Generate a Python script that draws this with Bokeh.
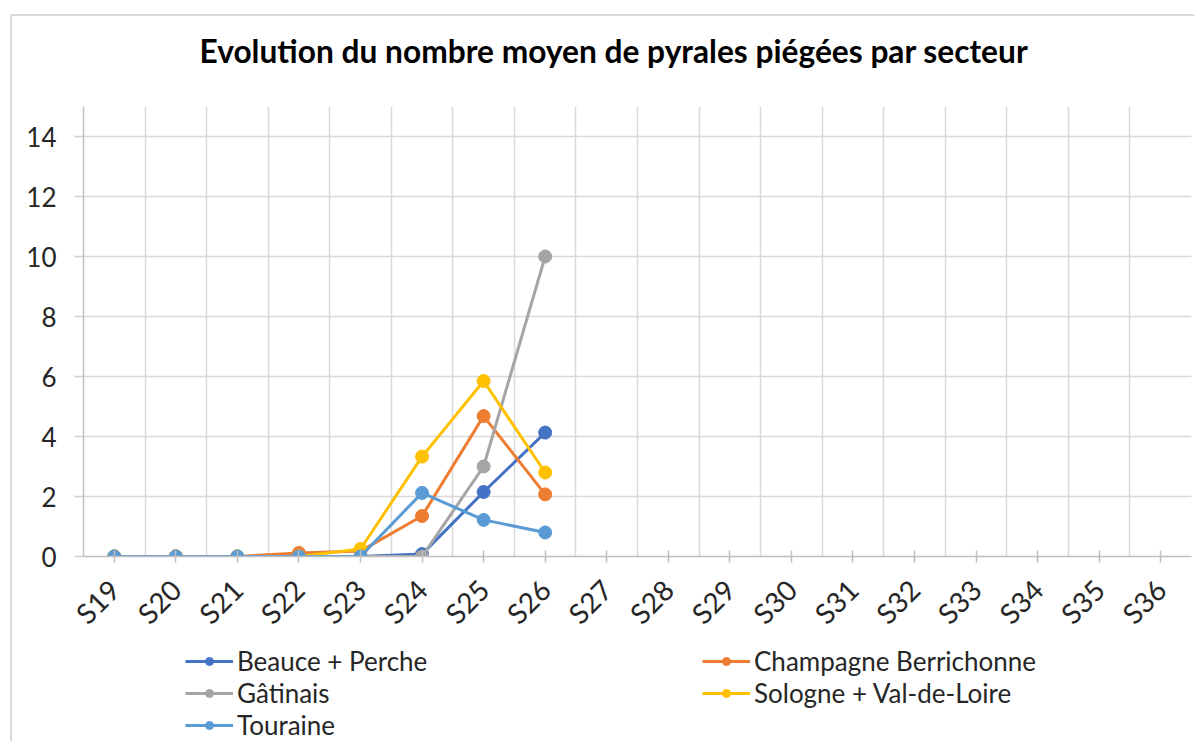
import numpy as np
from bokeh.plotting import figure
from bokeh.layouts import column
from bokeh.models import Legend, LegendItem, FixedTicker, Range1d, Title
from bokeh.embed import file_html
from bokeh.resources import INLINE

weeks = ["S19", "S20", "S21", "S22", "S23", "S24", "S25", "S26", "S27",
         "S28", "S29", "S30", "S31", "S32", "S33", "S34", "S35", "S36"]
observed_weeks = weeks[:8]

beauce_perche = [0, 0, 0, 0, 0, 0.08, 2.15, 4.13]
champagne_berrichonne = [0, 0, 0, 0.12, 0.18, 1.35, 4.68, 2.07]
gatinais = [0, 0, 0, 0, 0, 0, 3.0, 10.0]
sologne_val_de_loire = [0, 0, 0, 0, 0.25, 3.33, 5.85, 2.8]
touraine = [0, 0, 0, 0, 0, 2.12, 1.22, 0.8]

series_names = ["Beauce + Perche", "Champagne Berrichonne", "Gâtinais",
                "Sologne + Val-de-Loire", "Touraine"]
series_values = [beauce_perche, champagne_berrichonne, gatinais,
                 sologne_val_de_loire, touraine]
series_colors = ["#4472C4", "#ED7D31", "#A5A5A5", "#FFC000", "#5B9BD5"]

y_ticks = [0, 2, 4, 6, 8, 10, 12, 14]
title_text = "Evolution du nombre moyen de pyrales piégées par secteur"

FONT = "Lato"
TEXT = "#262626"

# --- title strip ---
tf = figure(frame_width=1108, frame_height=1, output_backend="svg",
            toolbar_location=None, x_axis_location=None, y_axis_location=None,
            min_border_left=71, min_border_right=3, min_border_top=0,
            min_border_bottom=0, frame_align=False)
tf.grid.visible = False
tf.outline_line_color = None
tf.border_fill_color = "white"
tf.title = Title(text=title_text, text_font=FONT, text_font_size="31.7px",
                 text_font_style="bold", text_color="black", align="left",
                 offset=116, standoff=30, vertical_align="top")

# --- main chart ---
p = figure(frame_width=1108, frame_height=450, output_backend="svg",
           toolbar_location=None,
           x_range=Range1d(-0.5, len(weeks) - 0.5), y_range=Range1d(0, 15),
           min_border_left=71, min_border_top=19, min_border_right=3,
           min_border_bottom=0, frame_align=False)
p.outline_line_color = None
p.background_fill_color = "white"
p.border_fill_color = "white"

p.xaxis.ticker = FixedTicker(ticks=list(range(len(weeks))))
p.xaxis.major_label_overrides = {i: w for i, w in enumerate(weeks)}
p.xaxis.major_label_orientation = np.pi / 4
p.xaxis.major_label_text_font = FONT
p.xaxis.major_label_text_font_size = "28px"
p.xaxis.major_label_text_color = TEXT
p.xaxis.major_label_standoff = 22
p.xaxis.axis_line_color = "#BFBFBF"
p.xaxis.axis_line_width = 1.5
p.xaxis.major_tick_line_color = "#BFBFBF"
p.xaxis.major_tick_line_width = 1.5
p.xaxis.major_tick_in = 6
p.xaxis.major_tick_out = 6
p.xaxis.minor_tick_line_color = None

p.yaxis.ticker = FixedTicker(ticks=y_ticks)
p.yaxis.major_label_text_font = FONT
p.yaxis.major_label_text_font_size = "26px"
p.yaxis.major_label_text_color = TEXT
p.yaxis.major_label_standoff = 18
p.yaxis.axis_line_color = "#BFBFBF"
p.yaxis.axis_line_width = 1.5
p.yaxis.major_tick_line_color = "#D0D0D0"
p.yaxis.major_tick_line_width = 1.5
p.yaxis.major_tick_in = 0
p.yaxis.major_tick_out = 9
p.yaxis.minor_tick_line_color = None

p.xgrid.ticker = FixedTicker(ticks=[i - 0.5 for i in range(len(weeks) + 1)])
p.xgrid.grid_line_color = "#D9D9D9"
p.xgrid.grid_line_width = 1.5
p.ygrid.ticker = FixedTicker(ticks=y_ticks)
p.ygrid.grid_line_color = "#D9D9D9"
p.ygrid.grid_line_width = 1.5

x_idx = list(range(len(observed_weeks)))
for name, vals, col in zip(series_names, series_values, series_colors):
    p.line(x_idx, vals, line_color=col, line_width=3)
    p.scatter(x_idx, vals, marker="circle", size=13, fill_color=col, line_color=col)

# --- legend strip (its own ranges keep the series out of view) ---
lg = figure(frame_width=1009, frame_height=96, output_backend="svg",
            toolbar_location=None,
            x_range=Range1d(-100, -99), y_range=Range1d(-100, -99),
            x_axis_location=None, y_axis_location=None,
            min_border_left=173, min_border_top=0, min_border_right=0,
            min_border_bottom=0, frame_align=False)
lg.grid.visible = False
lg.outline_line_color = None
lg.border_fill_color = "white"

items = {}
for name, vals, col in zip(series_names, series_values, series_colors):
    l = lg.line(x_idx, vals, line_color=col, line_width=3)
    s = lg.scatter(x_idx, vals, marker="circle", size=12, fill_color=col,
                   line_color=col)
    items[name] = LegendItem(label=name, renderers=[l, s])

order = ["Beauce + Perche", "Gâtinais", "Touraine",
         "Champagne Berrichonne", "Sologne + Val-de-Loire"]
legend = Legend(items=[items[n] for n in order], orientation="vertical", nrows=3,
                location="top_left", label_text_font=FONT,
                label_text_font_size="26px", label_text_color=TEXT,
                glyph_width=48, glyph_height=20, label_standoff=4,
                label_width=465, spacing=-1, padding=0, margin=0,
                border_line_color=None, background_fill_alpha=0)
lg.add_layout(legend, "center")

layout = column(tf, p, lg, spacing=0)
layout.styles = {"border-left": "2px solid #D9D9D9", "border-top": "2px solid #D9D9D9",
                 "margin-left": "10px", "margin-top": "14px"}

open("out.html", "w").write(file_html(layout, INLINE))
